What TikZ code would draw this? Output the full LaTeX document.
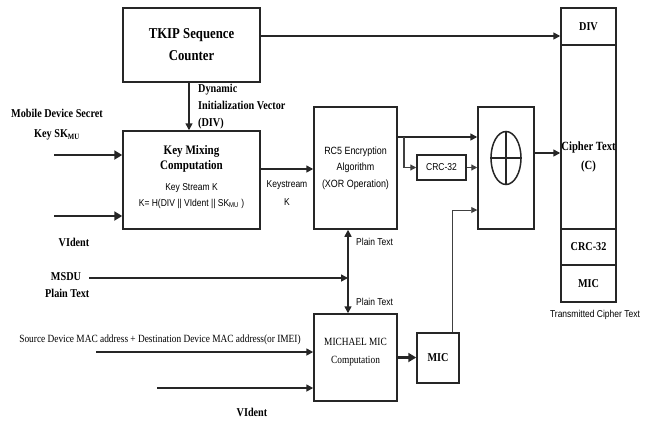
\documentclass[tikz,border=0pt]{standalone}
\usepackage{fontspec}
\setmainfont{Liberation Serif}
\newfontfamily\cserif[FakeStretch=0.85]{Liberation Serif}
\newfontfamily\csans[FakeStretch=0.85]{Liberation Sans}
\usetikzlibrary{arrows.meta,shapes.geometric}
\begin{document}
\begin{tikzpicture}[x=1pt,y=-1pt,
  box/.style={draw=black!85, line width=1.5pt, inner sep=0pt},
  arr/.style={-{Triangle[length=7pt,width=7pt]}, line width=1.6pt, draw=black!85},
  bigarr/.style={-{Triangle[length=8pt,width=9pt]}, line width=2.8pt, draw=black!85},
  thinarr/.style={-{Triangle[length=6pt,width=6pt]}, line width=0.9pt, draw=black!75},
  bl/.style={font=\cserif\bfseries\fontsize{12}{17}\selectfont, align=center, inner sep=0pt},
  sl/.style={font=\csans\fontsize{10}{16}\selectfont, align=center, inner sep=0pt},
  rl/.style={font=\cserif\fontsize{11}{18}\selectfont, align=center, inner sep=0pt}]
\useasboundingbox (0,0) rectangle (645,426);

% boxes
\node[box, minimum width=137, minimum height=74, bl, font=\cserif\bfseries\fontsize{15}{22}\selectfont] (tkip) at (191.5,45) {TKIP Sequence\\Counter};
\node[box, minimum width=137, minimum height=98] (km) at (191.5,180) {};
\node[box, minimum width=83, minimum height=122] (rc5) at (355.5,168) {};
\node[box, minimum width=56, minimum height=122] (xor) at (506,168) {};
\node[draw=black!85, line width=1.5pt, ellipse, minimum width=30, minimum height=53, inner sep=0pt] (xc) at (506,158) {};
\draw[line width=1.5pt, black!85] (xc.north) -- (xc.south) (xc.west) -- (xc.east);
\node[box, minimum width=49, minimum height=25, sl] (crc) at (441.5,167.5) {CRC-32};
\node[box, minimum width=55, minimum height=37, bl] (div) at (588.5,26.5) {DIV};
\node[box, minimum width=55, minimum height=184] (ct) at (588.5,137) {};
\node[box, minimum width=55, minimum height=36, bl] (ccrc) at (588.5,247) {CRC-32};
\node[box, minimum width=55, minimum height=37, bl] (cmic) at (588.5,283.5) {MIC};
\node[box, minimum width=83, minimum height=87] (mich) at (355.5,357.5) {};
\node[box, minimum width=42, minimum height=50, bl] (mic) at (438,358) {MIC};

% texts inside boxes
\node[bl, font=\cserif\bfseries\fontsize{13}{15}\selectfont] (kmt) at (191.5,159) {Key Mixing\\Computation};
\node[sl] (kmf) at (191.5,196) {Key Stream K\\K= H(DIV {\textbar\textbar} VIdent {\textbar\textbar} SK\textsubscript{MU} )};
\node[sl, font=\csans\fontsize{10.5}{16.5}\selectfont] (rc5t) at (355.5,168) {RC5 Encryption\\Algorithm\\(XOR Operation)};
\node[bl, font=\cserif\bfseries\fontsize{12.5}{19}\selectfont] (ctt) at (588.5,157) {Cipher Text\\(C)};
\node[rl] (micht) at (355.5,352) {MICHAEL MIC\\Computation};

% outside labels
\node[bl, anchor=west, align=left] (dyn) at (198,107) {Dynamic\\Initialization Vector\\(DIV)};
\node[bl, font=\cserif\bfseries\fontsize{12}{20}\selectfont] (mob) at (57,125) {Mobile Device Secret\\Key SK\textsubscript{MU}};
\node[bl] (vid1) at (74,242) {VIdent};
\node[bl] (msdu) at (66,285) {MSDU\\\ Plain Text};
\node[rl] (src) at (160,340) {Source Device MAC address + Destination Device MAC address(or IMEI)};
\node[bl] (vid2) at (252,412) {VIdent};
\node[sl, font=\csans\fontsize{10}{18}\selectfont] (ksk) at (287,193) {Keystream\\K};
\node[sl, anchor=west] (pt1) at (356,242) {Plain Text};
\node[sl, anchor=west] (pt2) at (356,302) {Plain Text};
\node[sl] (tct) at (595,315) {Transmitted Cipher Text};

% connectors
\draw[arr] ([yshift=9pt]tkip.east) -- ([yshift=9pt]tkip.east -| div.west);
\draw[arr] ([xshift=-2.5pt]tkip.south) -- ([xshift=-2.5pt]km.north);
\coordinate (m1) at (54,155);
\coordinate (m2) at (54,216);
\draw[bigarr] (m1) -- (m1 -| km.west);
\draw[bigarr] (m2) -- (m2 -| km.west);
\draw[arr] ([yshift=11pt]km.east) -- ([yshift=11pt]km.east -| rc5.west);
\draw[arr] ([yshift=31pt]rc5.east) -- ([yshift=31pt]rc5.east -| xor.west);
\coordinate (br) at (404,137);
\draw[thinarr, line width=1.2pt] (br) |- (crc.west);
\draw[thinarr, line width=1.2pt] (crc.east) -- (crc.east -| xor.west);
\draw[arr] ([yshift=15pt]xor.east) -- ([yshift=15pt]xor.east -| ct.west);
\draw[thinarr] ([xshift=14pt]mic.north) |- ([yshift=-42pt]xor.west);
\draw[bigarr, line width=2.2pt] (mich.east) -- (mich.east -| mic.west);
\coordinate (ms) at (89,278);
\coordinate (j) at (348,278);
\draw[arr] (ms) -- (j);
\draw[arr] (j) -- (j |- rc5.south);
\draw[arr] (j) -- (j |- mich.north);
\coordinate (s) at (96,352);
\coordinate (v) at (157,388);
\draw[arr] (s) -- (s -| mich.west);
\draw[arr] (v) -- (v -| mich.west);
\end{tikzpicture}
\end{document}
